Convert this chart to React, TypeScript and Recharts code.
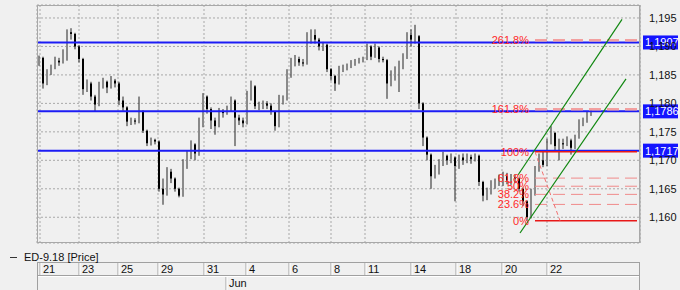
import {
  ComposedChart,
  Bar,
  Scatter,
  XAxis,
  YAxis,
  CartesianGrid,
  ReferenceLine,
} from "recharts";

// prices in 1/10000 (pips), one bar every few hours
const firstOpen = 11870;
const closes = [
  11880, 11835, 11852, 11862, 11875, 11872, 11890, 11925, 11922, 11900,
  11878, 11825, 11835, 11812, 11798, 11830, 11838, 11828, 11840, 11835,
  11805, 11793, 11768, 11770, 11768, 11786, 11752, 11730, 11736, 11733,
  11650, 11640, 11680, 11668, 11650, 11638, 11690, 11705, 11728, 11712,
  11760, 11812, 11790, 11770, 11760, 11785, 11783, 11790, 11805, 11775,
  11770, 11765, 11815, 11830, 11795, 11795, 11800, 11796, 11785, 11760,
  11800, 11808, 11855, 11868, 11878, 11872, 11870, 11918, 11920, 11912,
  11900, 11903, 11860, 11848, 11835, 11860, 11862, 11864, 11870, 11872,
  11875, 11878, 11900, 11882, 11898, 11878, 11876, 11835, 11848, 11855,
  11868, 11880, 11920, 11912, 11918, 11800, 11740, 11710, 11672, 11685,
  11695, 11708, 11700, 11705, 11690, 11705, 11700, 11706, 11702, 11708,
  11662, 11638, 11645, 11655, 11660, 11668, 11672, 11665, 11670, 11668,
  11650, 11628, 11600, 11640, 11685, 11700, 11692, 11730, 11748, 11725,
  11730, 11728, 11735, 11722, 11740, 11765, 11768, 11780, 11785,
];
const highs = [
  11884, 11882, 11860, 11868, 11882, 11880, 11895, 11930, 11932, 11924,
  11902, 11880, 11842, 11838, 11815, 11838, 11845, 11840, 11848, 11843,
  11838, 11812, 11795, 11775, 11774, 11812, 11788, 11754, 11740, 11738,
  11735, 11668, 11688, 11685, 11670, 11652, 11702, 11718, 11735, 11730,
  11775, 11818, 11814, 11793, 11775, 11792, 11790, 11796, 11812, 11807,
  11780, 11775, 11822, 11840, 11832, 11803, 11805, 11804, 11800, 11787,
  11815, 11814, 11860, 11880, 11885, 11882, 11878, 11925, 11930, 11930,
  11915, 11908, 11905, 11862, 11850, 11866, 11868, 11870, 11876, 11878,
  11880, 11882, 11905, 11902, 11905, 11900, 11882, 11878, 11858, 11865,
  11875, 11888, 11925, 11930, 11938, 11920, 11802, 11742, 11712, 11692,
  11702, 11715, 11710, 11712, 11707, 11710, 11712, 11712, 11710, 11712,
  11710, 11664, 11652, 11665, 11668, 11675, 11680, 11678, 11676, 11675,
  11670, 11652, 11630, 11650, 11690, 11712, 11715, 11738, 11760, 11750,
  11738, 11738, 11742, 11738, 11745, 11772, 11775, 11786, 11790,
];
const lows = [
  11866, 11826, 11832, 11850, 11860, 11866, 11870, 11875, 11912, 11895,
  11872, 11815, 11820, 11805, 11785, 11795, 11826, 11818, 11826, 11828,
  11797, 11787, 11760, 11762, 11763, 11765, 11748, 11725, 11726, 11728,
  11645, 11622, 11638, 11660, 11645, 11635, 11636, 11685, 11702, 11700,
  11708, 11758, 11782, 11755, 11745, 11758, 11775, 11780, 11785, 11725,
  11762, 11758, 11763, 11805, 11790, 11788, 11790, 11790, 11780, 11752,
  11758, 11798, 11805, 11845, 11865, 11866, 11865, 11868, 11905, 11905,
  11893, 11892, 11855, 11840, 11822, 11833, 11855, 11858, 11862, 11866,
  11870, 11872, 11876, 11876, 11880, 11872, 11872, 11808, 11830, 11840,
  11820, 11860, 11878, 11900, 11905, 11790, 11725, 11700, 11650, 11668,
  11675, 11690, 11692, 11695, 11628, 11685, 11692, 11695, 11694, 11698,
  11655, 11628, 11630, 11640, 11650, 11655, 11655, 11658, 11657, 11660,
  11645, 11620, 11594, 11598, 11638, 11680, 11688, 11690, 11728, 11718,
  11700, 11720, 11725, 11710, 11720, 11738, 11760, 11766, 11778,
];

// x axis: bar position where each day starts
const dayPos = [0.25, 10, 19.75, 29.75, 41.25, 51.75, 62.5, 73, 81.5, 93, 104.25, 115.75, 127];
const dayLabels = ["21", "23", "25", "29", "31", "4", "6", "8", "11", "14", "18", "20", "22"];
const monthPos = [46.75];
const monthLabels = ["Jun"];

const priceTicks = [1.16, 1.165, 1.17, 1.175, 1.18, 1.185, 1.19, 1.195];

// horizontal support / resistance lines
const levels = [1.1907, 1.1786, 1.1717];
const levelLabels = ["1,1907", "1,1786", "1,1717"];

// fibonacci tool
const fibLow = 1.1594;
const fibHigh = 1.1715;
const fibRatios = [0, 0.236, 0.382, 0.5, 0.618, 1, 1.618, 2.618];
const fibNames = ["0%", "23.6%", "38.2%", "50%", "61.8%", "100%", "161.8%", "261.8%"];
const fibStart = 124;
const fibEnd = 149.5;
const fibTrend = [{ x: 124, y: 1.1715 }, { x: 130.25, y: 1.1594 }];

// trend channel
const channelUpper = [{ x: 119.75, y: 1.16743 }, { x: 145.75, y: 1.19475 }];
const channelLower = [{ x: 120.25, y: 1.15724 }, { x: 146.75, y: 1.1843 }];

const candles = closes.map((c, i) => {
  const open = (i === 0 ? firstOpen : closes[i - 1]) / 1e4;
  const close = c / 1e4;
  const high = Math.max(highs[i] / 1e4, open, close);
  const low = Math.min(lows[i] / 1e4, open, close);
  return { i, open, close, high, low, range: [low, high] };
});

const fibData = fibRatios.map((r, k) => ({
  i: fibStart,
  p: fibLow + r * (fibHigh - fibLow),
  name: fibNames[k],
}));

const FONT = "'Liberation Sans', Arial, sans-serif";

function Candle(props: any) {
  const { x, width, payload } = props;
  let { y, height } = props;
  if (height < 0) {
    y = y + height;
    height = -height;
  }
  const { open, close, high, low } = payload;
  const span = high - low || 1e-9;
  const py = (p: number) => y + ((high - p) / span) * height;
  const cx = x + width / 2;
  const top = py(Math.max(open, close));
  const bot = py(Math.min(open, close));
  const up = close >= open;
  return (
    <g>
      <line x1={cx} x2={cx} y1={y} y2={y + height} stroke="#222" strokeWidth={1} />
      <rect
        x={x}
        y={top}
        width={width}
        height={Math.max(1, bot - top)}
        fill={up ? "#8a8a8a" : "#000"}
      />
    </g>
  );
}

function FibLabel(props: any) {
  const { cx, cy, payload } = props;
  return (
    <text
      x={cx - 6}
      y={cy + 4}
      textAnchor="end"
      fill="#ff2a2a"
      style={{ fontSize: 11, fontFamily: FONT }}
    >
      {payload.name}
    </text>
  );
}

function ValueBox(props: any) {
  const { viewBox, text } = props;
  const x = viewBox.x + viewBox.width + 3;
  const y = viewBox.y;
  return (
    <g>
      <rect x={x} y={y - 7} width={35} height={14} fill="#1414ff" />
      <text x={x + 2} y={y + 4} fill="#fff" style={{ fontSize: 11, fontFamily: FONT }}>
        {text}
      </text>
    </g>
  );
}

function PriceTick(props: any) {
  const { x, y, payload } = props;
  return (
    <text x={x + 1} y={y + 4} fill="#111" style={{ fontSize: 11, fontFamily: FONT }}>
      {payload.value.toFixed(3).replace(".", ",")}
    </text>
  );
}

function DayTick(props: any) {
  const { x, payload } = props;
  const k = dayPos.indexOf(payload.value);
  return (
    <g>
      <line x1={x} x2={x} y1={263} y2={276} stroke="#a0a0a0" />
      <line x1={x + 1} x2={x + 1} y1={263} y2={276} stroke="#fff" />
      <text x={x + 3} y={273} fill="#111" style={{ fontSize: 11, fontFamily: FONT }}>
        {dayLabels[k]}
      </text>
    </g>
  );
}

function MonthTick(props: any) {
  const { x, payload } = props;
  const k = monthPos.indexOf(payload.value);
  return (
    <g>
      <line x1={x} x2={x} y1={276} y2={290} stroke="#a0a0a0" />
      <line x1={x + 1} x2={x + 1} y1={276} y2={290} stroke="#fff" />
      <text x={x + 3} y={287} fill="#111" style={{ fontSize: 11, fontFamily: FONT }}>
        {monthLabels[k]}
      </text>
    </g>
  );
}

export default function App() {
  return (
    <div
      style={{
        position: "absolute",
        left: 0,
        top: 0,
        width: 680,
        height: 290,
        background: "#f0f0f0",
        fontFamily: FONT,
      }}
    >
      <ComposedChart
        width={680}
        height={290}
        data={candles}
        margin={{ top: 5, right: 0, left: 37, bottom: 0 }}
      >
        <CartesianGrid stroke="#a8a8a8" strokeDasharray="2 2" />
        <XAxis
          type="number"
          dataKey="i"
          domain={[-0.5, 150.25]}
          allowDataOverflow
          ticks={dayPos}
          interval={0}
          height={33}
          axisLine={false}
          tickLine={false}
          tick={<DayTick />}
        />
        <XAxis
          xAxisId="m"
          type="number"
          dataKey="i"
          domain={[-0.5, 150.25]}
          allowDataOverflow
          ticks={monthPos}
          interval={0}
          height={14}
          axisLine={false}
          tickLine={false}
          tick={<MonthTick />}
        />
        <YAxis
          orientation="right"
          width={40}
          domain={[1.15548, 1.19728]}
          allowDataOverflow
          ticks={priceTicks}
          interval={0}
          tickLine={false}
          axisLine={{ stroke: "#a0a0a0" }}
          tick={<PriceTick />}
        />

        {levels.map((v, k) => (
          <ReferenceLine
            key={"lv" + k}
            y={v}
            stroke="#1c1cf5"
            strokeWidth={2}
            label={<ValueBox text={levelLabels[k]} />}
          />
        ))}

        {fibData.map((f, k) => {
          const solid = f.name === "0%" || f.name === "100%";
          const ext = f.name === "161.8%" || f.name === "261.8%";
          return (
            <ReferenceLine
              key={"fb" + k}
              segment={[
                { x: fibStart, y: f.p },
                { x: fibEnd, y: f.p },
              ]}
              stroke={solid ? "#e81818" : ext ? "#f2a0a0" : "#f08a8a"}
              strokeWidth={solid ? 1.5 : ext ? 2.5 : 1}
              strokeDasharray={solid ? undefined : "12 6"}
            />
          );
        })}
        <ReferenceLine segment={fibTrend} stroke="#f07070" strokeDasharray="4 3" />

        <ReferenceLine segment={channelUpper} stroke="#118811" strokeWidth={1.2} />
        <ReferenceLine segment={channelLower} stroke="#118811" strokeWidth={1.2} />

        <Bar dataKey="range" barSize={2} shape={<Candle />} isAnimationActive={false} />
        <Scatter
          data={fibData}
          dataKey="p"
          shape={<FibLabel />}
          isAnimationActive={false}
        />
      </ComposedChart>

      <svg
        width={680}
        height={290}
        style={{ position: "absolute", left: 0, top: 0, pointerEvents: "none" }}
      >
        <rect x={37.5} y={5.5} width={602} height={237} fill="none" stroke="#a8a8a8" />
        <line x1={37} x2={640} y1={262.5} y2={262.5} stroke="#a0a0a0" />
        <line x1={37} x2={640} y1={275.5} y2={275.5} stroke="#a0a0a0" />
        <line x1={37} x2={640} y1={276.5} y2={276.5} stroke="#fff" />
        <line x1={37.5} x2={37.5} y1={263} y2={290} stroke="#a0a0a0" />
        <line x1={639.5} x2={639.5} y1={263} y2={290} stroke="#a0a0a0" />
        <line x1={10} x2={17} y1={257.5} y2={257.5} stroke="#333" />
        <text x={24} y={261} fill="#111" style={{ fontSize: 11, fontFamily: FONT }}>
          ED-9.18 [Price]
        </text>
      </svg>
    </div>
  );
}
